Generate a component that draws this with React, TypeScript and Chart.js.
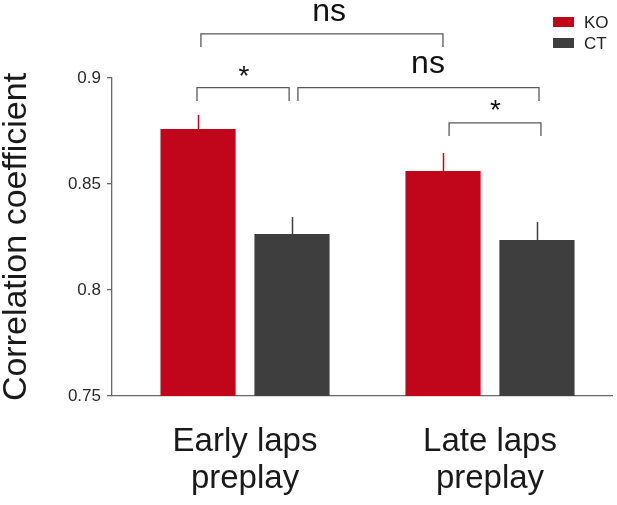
import React, { useEffect, useRef } from "react";
import { Chart, registerables } from "chart.js";

Chart.register(...registerables);

// ---- data ----
const categories: string[][] = [["Early laps", "preplay"], ["Late laps", "preplay"]];
const seriesLabels = ["KO", "CT"];
const koValues = [0.8759, 0.8561];
const koErrors = [0.0067, 0.0085];
const ctValues = [0.8264, 0.8236];
const ctErrors = [0.008, 0.0085];
const yTicks = [0.75, 0.8, 0.85, 0.9];

// significance brackets (data units)
const bracketStart = [-0.18, -0.196, 0.216, 0.833];
const bracketEnd = [0.808, 0.18, 1.2, 1.208];
const bracketLevel = [0.9208, 0.8955, 0.8955, 0.8788];
const bracketFoot = [0.9146, 0.8892, 0.8892, 0.8726];
const bracketText = ["ns", "*", "ns", "*"];
const bracketTextX = [0.343, -0.004, 0.747, 1.022];
const bracketTextY = [0.9269, 0.9033, 0.9024, 0.8873];

const KO_COLOR = "#C1061B";
const CT_COLOR = "#3E3E3E";
const FONT = "'Liberation Sans', Arial, Helvetica, sans-serif";

const overlayPlugin = {
  id: "overlay",
  afterDatasetsDraw(chart: any) {
    const ctx = chart.ctx;
    const xs = chart.scales.x;
    const ys = chart.scales.y;
    const errs = [koErrors, ctErrors];
    const vals = [koValues, ctValues];
    ctx.save();
    // error bars
    chart.data.datasets.forEach((ds: any, di: number) => {
      const meta = chart.getDatasetMeta(di);
      meta.data.forEach((el: any, i: number) => {
        const top = ys.getPixelForValue(vals[di][i] + errs[di][i]);
        ctx.strokeStyle = ds.backgroundColor;
        ctx.lineWidth = 1.5;
        ctx.beginPath();
        ctx.moveTo(Math.round(el.x) + 0.5, el.y);
        ctx.lineTo(Math.round(el.x) + 0.5, top);
        ctx.stroke();
      });
    });
    // brackets
    ctx.strokeStyle = "#5a5a5a";
    ctx.lineWidth = 1.3;
    bracketStart.forEach((s, i) => {
      const x1 = xs.getPixelForValue(s);
      const x2 = xs.getPixelForValue(bracketEnd[i]);
      const yl = ys.getPixelForValue(bracketLevel[i]);
      const yf = ys.getPixelForValue(bracketFoot[i]);
      ctx.beginPath();
      ctx.moveTo(x1, yf);
      ctx.lineTo(x1, yl);
      ctx.lineTo(x2, yl);
      ctx.lineTo(x2, yf);
      ctx.stroke();
      ctx.fillStyle = "#111";
      ctx.textAlign = "center";
      const tx = xs.getPixelForValue(bracketTextX[i]);
      const ty = ys.getPixelForValue(bracketTextY[i]);
      if (bracketText[i] === "*") {
        ctx.font = `28px ${FONT}`;
        ctx.textBaseline = "middle";
        ctx.fillText(bracketText[i], tx, ty + 6);
      } else {
        ctx.font = `32px ${FONT}`;
        ctx.textBaseline = "alphabetic";
        ctx.fillText(bracketText[i], tx, ty);
      }
    });
    // legend
    ctx.font = `17px ${FONT}`;
    ctx.textAlign = "left";
    ctx.textBaseline = "middle";
    chart.data.datasets.forEach((ds: any, di: number) => {
      const y0 = 17 + di * 21;
      ctx.fillStyle = ds.backgroundColor;
      ctx.fillRect(553, y0, 21, 10);
      ctx.fillStyle = "#222";
      ctx.fillText(ds.label, 584, y0 + 6);
    });
    ctx.restore();
  },
};

export default function App() {
  const ref = useRef<HTMLCanvasElement | null>(null);
  useEffect(() => {
    if (!ref.current) return;
    const chart = new Chart(ref.current, {
      type: "bar",
      data: {
        datasets: [
          {
            label: seriesLabels[0],
            data: koValues.map((v, i) => ({ x: i, y: v })),
            backgroundColor: KO_COLOR,
            borderWidth: 0,
          },
          {
            label: seriesLabels[1],
            data: ctValues.map((v, i) => ({ x: i, y: v })),
            backgroundColor: CT_COLOR,
            borderWidth: 0,
          },
        ],
      },
      options: {
        animation: false,
        responsive: false,
        devicePixelRatio: 1,
        layout: { padding: { top: 78, right: 5, left: 0, bottom: 0 } },
        plugins: { legend: { display: false }, tooltip: { enabled: false } },
        datasets: { bar: { categoryPercentage: 0.767, barPercentage: 0.8 } } as any,
        scales: {
          x: {
            type: "linear",
            offset: false,
            min: -0.543,
            max: 1.498,
            afterBuildTicks: (scale: any) => {
              scale.ticks = categories.map((_, i) => ({ value: i }));
            },
            afterFit: (scale: any) => {
              scale.height = 109;
            },
            ticks: {
              callback: (value: any) => categories[Math.round(value)] as any,
              font: { family: FONT, size: 33, lineHeight: 1.1 },
              color: "#1a1a1a",
              padding: 28,
              maxRotation: 0,
              autoSkip: false,
            },
            grid: { display: false, drawTicks: false, offset: false },
            border: { display: true, color: "#6a6a6a", width: 1.3 },
          },
          y: {
            min: 0.75,
            max: 0.9,
            afterBuildTicks: (scale: any) => {
              scale.ticks = yTicks.map((v) => ({ value: v }));
            },
            afterFit: (scale: any) => {
              scale.width = 112;
            },
            ticks: {
              callback: (value: any) => String(Number(value)),
              font: { family: FONT, size: 17 },
              color: "#2a2a2a",
              padding: 6,
            },
            grid: {
              drawOnChartArea: false,
              drawTicks: true,
              tickLength: 5,
              color: "#6a6a6a",
              lineWidth: 1.3,
            },
            border: { display: true, color: "#6a6a6a", width: 1.3 },
            title: {
              display: true,
              text: "Correlation coefficient",
              font: { family: FONT, size: 34, lineHeight: 1 },
              color: "#1a1a1a",
              padding: { top: 0, bottom: 0 },
            },
          },
        },
      },
      plugins: [overlayPlugin],
    });
    return () => chart.destroy();
  }, []);
  return (
    <div style={{ position: "fixed", left: 0, top: 0, width: 617, height: 505, background: "#fff" }}>
      <canvas ref={ref} width={617} height={505} style={{ display: "block", width: 617, height: 505 }} />
    </div>
  );
}
